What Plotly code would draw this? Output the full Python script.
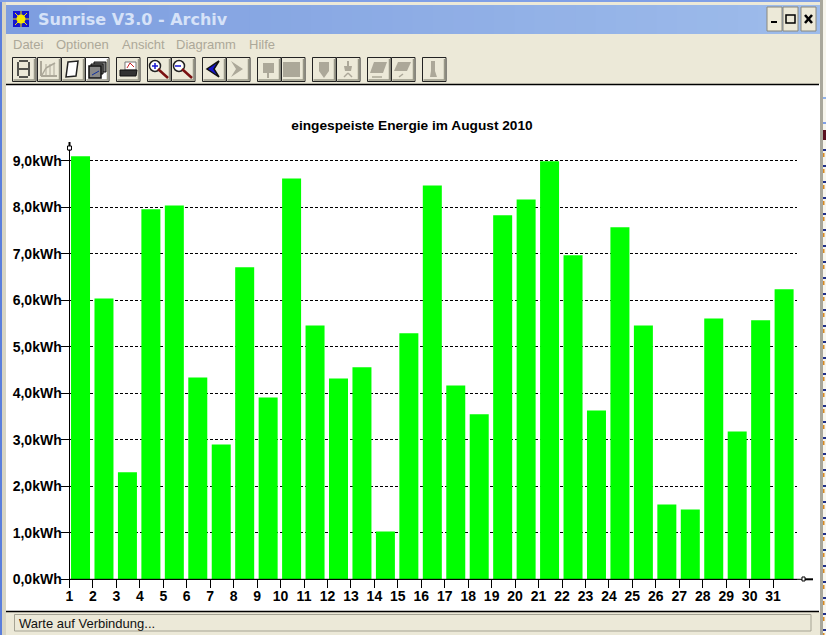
import plotly.graph_objects as go

W, H = 826, 635

days = list(range(1, 32))
energy_kwh = [9.10, 6.04, 2.30, 7.96, 8.04, 4.34, 2.90, 6.71, 3.91, 8.62, 5.46, 4.32, 4.56, 1.03, 5.29, 8.47,
              4.17, 3.55, 7.83, 8.17, 8.99, 6.97, 3.63, 7.57, 5.46, 1.61, 1.50, 5.61, 3.18, 5.57, 6.24]
y_ticks = [0, 1, 2, 3, 4, 5, 6, 7, 8, 9]
y_labels = ["0,0kWh", "1,0kWh", "2,0kWh", "3,0kWh", "4,0kWh", "5,0kWh", "6,0kWh", "7,0kWh", "8,0kWh", "9,0kWh"]
menu_items = ["Datei", "Optionen", "Ansicht", "Diagramm", "Hilfe"]
menu_x = [12, 55, 121, 175, 248]
button_x = [12, 37, 61, 85, 116, 147, 171, 202, 226, 257, 281, 312, 336, 367, 391, 422]

FACE = "#ECE9D8"
GREY = "#ACA899"
shapes = []
notes = []


def px(x):
    return x / W


def py(y):
    return 1 - y / H


# Fensterteile in Pixeln
def rect(x0, y0, x1, y1, fill, line=None, width=1):
    shapes.append(dict(type="rect", xref="paper", yref="paper", x0=px(x0), x1=px(x1), y0=py(y0), y1=py(y1),
                       fillcolor=fill, line=dict(color=line or fill, width=width if line else 0), layer="below"))


def seg(x0, y0, x1, y1, color="#000000", width=1):
    shapes.append(dict(type="line", xref="paper", yref="paper", x0=px(x0), x1=px(x1), y0=py(y0), y1=py(y1),
                       line=dict(color=color, width=width), layer="above"))


def poly(points, fill, line=None, width=1):
    path = "M" + " L".join("%.5f,%.5f" % (px(x), py(y)) for x, y in points) + " Z"
    shapes.append(dict(type="path", xref="paper", yref="paper", path=path, fillcolor=fill,
                       line=dict(color=line or fill, width=width if line else 0), layer="above"))


def circle(x0, y0, x1, y1, fill, line=None, width=1):
    shapes.append(dict(type="circle", xref="paper", yref="paper", x0=px(x0), x1=px(x1), y0=py(y1), y1=py(y0),
                       fillcolor=fill, line=dict(color=line or fill, width=width if line else 0), layer="above"))


def text(x, y, s, size, color="#000000", font="Liberation Sans", anchor="left"):
    notes.append(dict(text=s, x=px(x), y=py(y), xref="paper", yref="paper", showarrow=False, xanchor=anchor,
                      yanchor="middle", font=dict(family=font, size=size, color=color), borderpad=0))


# Hintergrund und Rand
rect(0, 0, W, H, FACE)
rect(0, 0, 2, H, "#5A7EDC")
rect(0, 0, W, 2, "#7F9FE6")
rect(2, 2, 6, H, "#D8D5C4")
rect(820, 0, 823, H, "#A9A79B")
rect(823, 0, W, H, "#F7F5EC")
rect(823, 97, W, 99, "#8FB0E8")
rect(823, 122, W, 124, "#7F9FE6")
rect(823, 130, W, 140, "#5A1020")
# angeschnittene Zeichen des Fensters dahinter
for y in range(149, 630, 16):
    rect(823, y, W, y + 2, "#20308A")
    rect(823, y + 4, 824.5, y + 8, "#D98A20")

# Titelleiste
steps = 40
for i in range(steps):
    t = i / (steps - 1)
    c = (int(126 + t * 32), int(158 + t * 30), int(224 + t * 11))
    rect(6 + i * 813 / steps, 5, 6 + (i + 1) * 813 / steps + 1, 34, "rgb(%d,%d,%d)" % c)
rect(13, 11, 29, 27, "#1414D0")
for x0, y0, x1, y1 in [(21, 11, 21, 27), (13, 19, 29, 19), (15, 13, 27, 25), (27, 13, 15, 25)]:
    seg(x0, y0, x1, y1, "#F8E800", 1)
circle(16.5, 14.5, 25.5, 23.5, "#F8E800")
text(37, 19.5, "<b>Sunrise V3.0 - Archiv</b>", 16, "#D6E2F8", "DejaVu Sans")

# Fensterknoepfe
for x0, x1 in [(767, 782), (783, 798), (801, 816)]:
    rect(x0, 7, x1, 31, FACE, "#8A887C")
seg(771, 22, 777, 22, width=2)
poly([(786, 15), (795, 15), (795, 23), (786, 23)], "rgba(0,0,0,0)", "#000000", 1.5)
seg(805, 15, 812, 23, width=2.5)
seg(812, 15, 805, 23, width=2.5)

# Menue
for name, x in zip(menu_items, menu_x):
    text(x, 45, name, 13, GREY, "Liberation Sans")

# Werkzeugleiste
for i, x in enumerate(button_x):
    rect(x + 0.5, 57.5, x + 24, 81.5, "#FFFFFF" if i == 3 else FACE, "#222222", 1)
    seg(x + 1.5, 80, x + 23.5, 80, "#9A9888", 1.5)
    seg(x + 22.5, 59, x + 22.5, 80, "#9A9888", 1.5)

# 8
for pts in [[(19, 61), (28, 61)], [(19, 69), (28, 69)], [(19, 77), (28, 77)], [(18, 62), (18, 76)],
            [(29, 62), (29, 76)]]:
    seg(pts[0][0], pts[0][1], pts[1][0], pts[1][1], "#222222", 1.5)
# Diagramm
seg(41, 61, 41, 76, GREY, 2)
seg(41, 76, 57, 76, GREY, 2)
seg(42, 75, 46, 68, GREY, 1.5)
seg(46, 68, 55, 63, GREY, 1.5)
for x in [46, 50, 54]:
    seg(x, 64, x, 75, GREY, 1)
# Schriftrolle
poly([(68, 62), (78, 61), (76, 76), (66, 77)], "#FFFFFF", "#222222", 1.5)
# Fenster
poly([(94, 62), (106, 62), (106, 72), (94, 72)], "#777777", "#111111", 1)
poly([(91, 64), (103, 64), (103, 74), (91, 74)], "#777777", "#111111", 1)
poly([(89, 66), (101, 66), (101, 78), (89, 78)], "#888888", "#111111", 1.5)
seg(92, 75, 99, 71, "#1030A0", 1)
# Drucker
poly([(125, 62), (136, 62), (136, 70), (125, 70)], "#FFFFFF", "#777777", 1)
seg(127, 68, 130, 63, "#CC2222", 1)
seg(130, 63, 134, 67, "#CC2222", 1)
poly([(120, 70), (137, 70), (136, 76), (120, 76)], "#333333", "#111111", 1)
# Lupen
for x in [147, 171]:
    circle(x + 2.5, 60.5, x + 13.5, 71.5, "#FFFFFF", "#222222", 1.5)
    seg(x + 11, 69, x + 21, 78, "#7A1010", 2.5)
seg(152, 66, 158, 66, "#1414D0", 1.5)
seg(155, 63, 155, 69, "#1414D0", 1.5)
seg(175, 66, 181, 66, "#1414D0", 1.5)
# Pfeile
poly([(219, 61), (207, 69), (219, 77), (214, 69)], "#1414D0", "#111111", 1.5)
poly([(231, 61), (243, 69), (231, 77), (236, 69)], GREY)
# graue Symbole
poly([(263, 63), (274, 63), (274, 73), (269, 73), (269, 78), (267, 78), (267, 73), (263, 73)], GREY)
poly([(283, 62), (300, 62), (300, 77), (283, 77)], GREY)
poly([(319, 62), (329, 62), (329, 71), (324, 78), (319, 71)], GREY)
seg(348, 61, 348, 71, GREY, 2)
poly([(344, 66), (352, 66), (351, 71), (345, 71)], GREY)
seg(344, 77, 348, 73, GREY, 1.5)
seg(352, 77, 348, 73, GREY, 1.5)
poly([(374, 62), (387, 62), (383, 73), (370, 73)], GREY)
seg(372, 77, 382, 77, GREY, 1.5)
poly([(398, 62), (411, 62), (407, 71), (394, 71)], GREY)
seg(399, 77, 403, 74, GREY, 1.5)
poly([(431, 61), (435, 61), (435, 71), (437, 77), (430, 77), (431, 71)], GREY)

# Diagrammflaeche
rect(6, 84, 820, 612, "#FFFFFF")
seg(6, 84.5, 819, 84.5, width=1.5)
seg(6, 611.5, 819, 611.5, width=1.5)

# Statusleiste
rect(14.5, 614.5, 811, 631, FACE, "#A5A394", 1)
text(18, 623.5, "Warte auf Verbindung...", 13, "#111111", "Liberation Sans")

# Achsenpfeile
seg(69.5, 579.3, 805, 579.3)
poly([(802, 577), (805, 577), (805, 581), (802, 581)], "#FFFFFF", "#000000", 1)
seg(805, 579.3, 813, 579.3, width=2)
seg(69.5, 151, 69.5, 142, width=2)
poly([(67.5, 146), (71.5, 146), (71.5, 150), (67.5, 150)], "#FFFFFF", "#000000", 1)

fig = go.Figure(go.Bar(x=days, y=energy_kwh, width=0.81, offset=0.065,
                       marker=dict(color="#00FF00", line=dict(width=0))))

plot_left, plot_right, plot_top, plot_bottom = 69.5, 797, 147, 579.3
tick_font = dict(family="Liberation Sans", size=14, weight="bold", color="#000000")
fig.update_layout(
    width=W, height=H, margin=dict(l=0, r=0, t=0, b=0, autoexpand=False), autosize=False, showlegend=False,
    paper_bgcolor="#FFFFFF", plot_bgcolor="rgba(0,0,0,0)", shapes=shapes, annotations=notes,
    title=dict(text="<b>eingespeiste Energie im August 2010</b>", x=412 / W, xanchor="center", xref="paper",
               y=1 - 125.5 / H, yanchor="middle", font=dict(family="Liberation Sans", size=13.7, color="#000000")),
    font=dict(family="Liberation Sans", size=12, color="#000000"),
)
fig.update_xaxes(domain=[px(plot_left), px(plot_right)], range=[1, 32.02], tickmode="array", tickvals=days,
                 ticks="outside", ticklen=8, tickcolor="#000000", showgrid=False, zeroline=False, showline=True,
                 linecolor="#000000", tickangle=0, tickfont=tick_font, automargin=False, ticklabelstandoff=-4)
fig.update_yaxes(domain=[py(plot_bottom), py(plot_top)], range=[0, (plot_bottom - plot_top) / 46.5],
                 tickmode="array", tickvals=y_ticks, ticktext=y_labels, ticks="outside", ticklen=8,
                 tickcolor="#000000", showgrid=True, gridcolor="#000000", griddash="3px,2px", gridwidth=1,
                 zeroline=False, showline=True, linecolor="#000000", tickfont=tick_font, automargin=False,
                 ticklabelstandoff=-4)

fig.write_html("out.html", config=dict(displayModeBar=False),
               post_script="document.body.style.margin='0';document.body.style.overflow='hidden';")
